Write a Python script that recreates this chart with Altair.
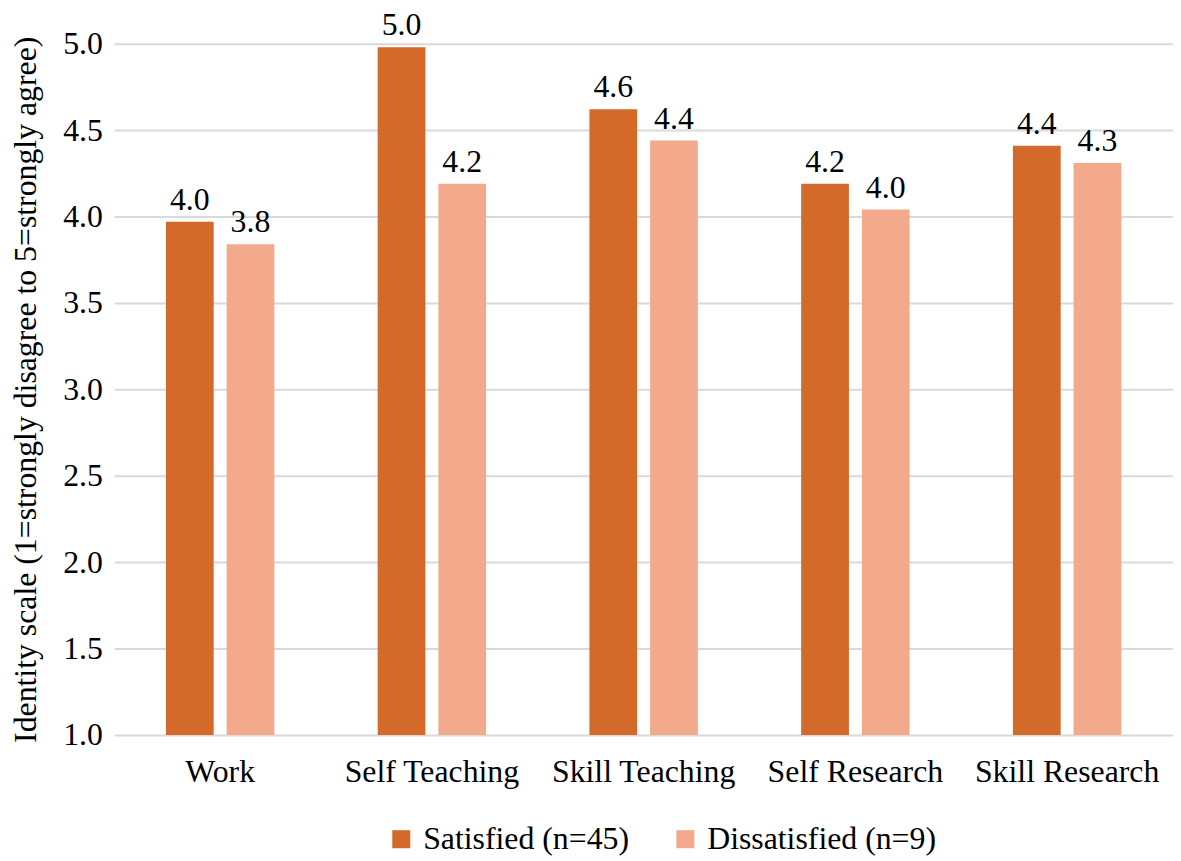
import altair as alt
import pandas as pd

categories = ["Work", "Self Teaching", "Skill Teaching", "Self Research", "Skill Research"]
series = ["Satisfied (n=45)", "Dissatisfied (n=9)"]
satisfied = [3.97, 4.98, 4.62, 4.19, 4.41]
dissatisfied = [3.84, 4.19, 4.44, 4.04, 4.31]
colors = ["#D46A2A", "#F2A98C"]

rows = []
for c, s, d in zip(categories, satisfied, dissatisfied):
    rows.append({"category": c, "series": series[0], "value": s})
    rows.append({"category": c, "series": series[1], "value": d})
df = pd.DataFrame(rows)

FONT = "'Liberation Serif', 'Times New Roman', serif"
FS = 32

x = alt.X("category:N", sort=categories, title=None,
          scale=alt.Scale(paddingInner=0.488, paddingOuter=0.244),
          axis=alt.Axis(labelAngle=0, ticks=False, domain=False, labelPadding=22,
                        labelFont=FONT, labelFontSize=FS, labelColor="#000", labelLimit=400))
xo = alt.XOffset("series:N", sort=series, scale=alt.Scale(paddingInner=0.213, paddingOuter=0))
y = alt.Y("value:Q", title="Identity scale (1=strongly disagree to 5=strongly agree)",
          scale=alt.Scale(domain=[1, 5], nice=False, zero=False),
          axis=alt.Axis(values=[1, 1.5, 2, 2.5, 3, 3.5, 4, 4.5, 5], format=".1f",
                        ticks=False, domain=False, labelPadding=12,
                        labelFont=FONT, labelFontSize=FS, labelColor="#000",
                        titleFont=FONT, titleFontSize=FS, titleColor="#000",
                        titleFontWeight="normal", titlePadding=20,
                        gridColor="#d9d9d9", gridWidth=2))
color = alt.Color("series:N", sort=series,
                  scale=alt.Scale(domain=series, range=colors),
                  legend=alt.Legend(title=None, orient="none", legendX=273, legendY=785,
                                    direction="horizontal",
                                    symbolType="square", symbolSize=330, symbolStrokeWidth=0,
                                    labelFont=FONT, labelFontSize=FS, labelColor="#000",
                                    columnPadding=40, labelOffset=6,
                                    labelLimit=400))

bars = alt.Chart(df).mark_bar(clip=True).encode(x=x, xOffset=xo, y=y, y2=alt.datum(1), color=color)
labels = alt.Chart(df).mark_text(font=FONT, fontSize=FS, color="#000", baseline="alphabetic", dy=-12).encode(
    x=alt.X("category:N", sort=categories), xOffset=alt.XOffset("series:N", sort=series),
    y="value:Q", text=alt.Text("value:Q", format=".1f"))

chart = alt.layer(bars, labels).properties(
    width=1066, height=696,
    autosize=alt.AutoSizeParams(type="none"),
    padding={"left": 107, "top": 33, "right": 0, "bottom": 121},
).configure_view(stroke=None)

chart.save("out.html", embed_options={"renderer": "svg", "actions": False})
